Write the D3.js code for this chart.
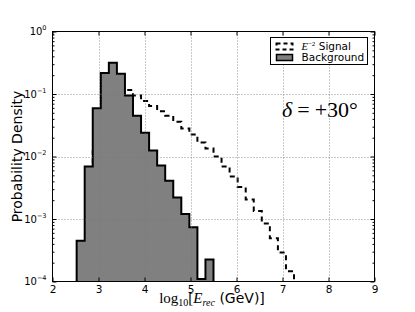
<html>
<meta charset="utf-8">
<style>
body { margin: 0; background: #fff; }
text { font-family: "DejaVu Sans", sans-serif; fill: #000; }
.math { font-family: "Liberation Serif", "DejaVu Serif", serif; }
</style>
<body>
<script src="https://d3js.org/d3.v7.min.js"></script>
<script>

// histogram bins (left edges), last edge separately
var bgEdges = [2.525, 2.7, 2.875, 3.05, 3.225, 3.4, 3.575, 3.75, 3.925, 4.1,
               4.275, 4.45, 4.625, 4.8, 4.975, 5.15, 5.325];
var bgEnd = 5.5;
var bgValues = [4.5e-4, 6.9e-3, 0.059, 0.217, 0.315, 0.21, 0.095, 0.045, 0.024, 0.0125,
                0.0072, 0.0041, 0.0022, 0.0012, 7.4e-4, 1.1e-4, 2.25e-4];

var sigEdges = [2.875, 3.05, 3.225, 3.4, 3.575, 3.75, 3.925, 4.1, 4.275, 4.45,
                4.625, 4.8, 4.975, 5.15, 5.325, 5.5, 5.675, 5.85, 6.025, 6.2,
                6.375, 6.55, 6.725, 6.9, 7.075];
var sigEnd = 7.25;
var sigValues = [0.012, 0.04, 0.08, 0.11, 0.116, 0.095, 0.077, 0.064, 0.053, 0.045,
                 0.036, 0.028, 0.0225, 0.0167, 0.0134, 0.01, 0.0069, 0.0048, 0.00325, 0.00205,
                 0.00134, 8.5e-4, 4.9e-4, 2.9e-4, 1.46e-4];

var xTicks = [2, 3, 4, 5, 6, 7, 8, 9];
var xGrid = [3, 4, 5, 6, 7, 8];
var yMajor = [1e-4, 1e-3, 1e-2, 1e-1, 1];
var yGrid = [1e-3, 1e-2, 1e-1];

var pLeft = 52.5, pRight = 374.5, pTop = 31.5, pBottom = 281.5;

var svg = d3.select("body").append("svg")
    .attr("width", 415)
    .attr("height", 312);

var x = d3.scaleLinear().domain([2, 9]).range([pLeft, pRight]);
var y = d3.scaleLog().domain([1e-4, 1]).range([pBottom, pTop]);

svg.append("clipPath").attr("id", "plot")
  .append("rect")
    .attr("x", pLeft).attr("y", pTop)
    .attr("width", pRight - pLeft).attr("height", pBottom - pTop);

// build step outline of a histogram
function steps(edges, vals, end) {
  var pts = [[x(edges[0]), y(1e-6)]];
  edges.forEach(function(e, i) {
    var e1 = i < edges.length - 1 ? edges[i + 1] : end;
    pts.push([x(e), y(vals[i])]);
    pts.push([x(e1), y(vals[i])]);
  });
  pts.push([x(end), y(1e-6)]);
  return pts;
}

var line = d3.line();

var g = svg.append("g").attr("clip-path", "url(#plot)");

// signal (dashed step)
g.append("path")
    .attr("d", line(steps(sigEdges, sigValues, sigEnd)))
    .style("fill", "none")
    .style("stroke", "#000")
    .style("stroke-width", 2)
    .style("stroke-dasharray", "5,4");

// background (filled step)
g.append("path")
    .attr("d", line(steps(bgEdges, bgValues, bgEnd)) + "Z")
    .style("fill", "#808080")
    .style("stroke", "#000")
    .style("stroke-width", 2)
    .style("stroke-linejoin", "miter");

// grid
svg.selectAll(".xg").data(xGrid).enter().append("line")
    .attr("x1", function(d) { return Math.round(x(d)) + 0.5; })
    .attr("x2", function(d) { return Math.round(x(d)) + 0.5; })
    .attr("y1", pTop).attr("y2", pBottom)
    .style("stroke", "#777").style("stroke-width", 0.8).style("stroke-dasharray", "1,2");
svg.selectAll(".yg").data(yGrid).enter().append("line")
    .attr("y1", function(d) { return Math.round(y(d)) + 0.5; })
    .attr("y2", function(d) { return Math.round(y(d)) + 0.5; })
    .attr("x1", pLeft).attr("x2", pRight)
    .style("stroke", "#777").style("stroke-width", 0.8).style("stroke-dasharray", "1,2");

// minor ticks on the log axis
var yMinor = [];
yMajor.slice(0, 4).forEach(function(m) {
  for (var k = 2; k < 10; k++) yMinor.push(m * k);
});

// axes with inward ticks
var xb = svg.append("g").attr("transform", "translate(0," + pBottom + ")")
    .call(d3.axisBottom(x).tickValues(xTicks).tickSize(-4).tickPadding(4).tickFormat(d3.format("d")));
svg.append("g").attr("transform", "translate(0," + pTop + ")")
    .call(d3.axisTop(x).tickValues(xTicks).tickSize(-4).tickFormat(""));
svg.append("g").attr("transform", "translate(" + pLeft + ",0)")
    .call(d3.axisLeft(y).tickValues(yMajor).tickSize(-4).tickFormat(""));
svg.append("g").attr("transform", "translate(" + pLeft + ",0)")
    .call(d3.axisLeft(y).tickValues(yMinor).tickSize(-2).tickFormat(""));
svg.append("g").attr("transform", "translate(" + pRight + ",0)")
    .call(d3.axisRight(y).tickValues(yMajor).tickSize(-4).tickFormat(""));
svg.append("g").attr("transform", "translate(" + pRight + ",0)")
    .call(d3.axisRight(y).tickValues(yMinor).tickSize(-2).tickFormat(""));

svg.selectAll(".domain").remove();
svg.selectAll(".tick line").style("stroke", "#000");
xb.selectAll("text").style("font-size", "10.5px").style("font-family", "DejaVu Sans");

// y tick labels 10^n
var yl = svg.selectAll(".ylab").data(yMajor).enter().append("text")
    .attr("x", 46.5)
    .attr("y", function(d) { return y(d) + 3.5; })
    .attr("text-anchor", "end")
    .style("font-size", "10px");
yl.append("tspan").text("10");
yl.append("tspan")
    .attr("dy", -5)
    .style("font-size", "6.5px")
    .text(function(d) { var e = Math.round(Math.log10(d)); return e < 0 ? "\u2212" + (-e) : e; });

// frame
svg.append("rect")
    .attr("x", pLeft).attr("y", pTop)
    .attr("width", pRight - pLeft).attr("height", pBottom - pTop)
    .style("fill", "none").style("stroke", "#000").style("stroke-width", 1);

// axis labels
svg.append("text")
    .attr("transform", "translate(22," + ((pTop + pBottom) / 2) + ") rotate(-90)")
    .attr("text-anchor", "middle")
    .style("font-size", "14px")
    .text("Probability Density");

var xl = svg.append("text")
    .attr("x", 212)
    .attr("y", 303)
    .attr("text-anchor", "middle")
    .style("font-size", "14px");
xl.append("tspan").attr("class", "math").style("font-size", "15px").text("log");
xl.append("tspan").attr("class", "math").attr("dy", 3).style("font-size", "10px").text("10");
xl.append("tspan").attr("class", "math").attr("dy", -3).style("font-size", "15px").text("[");
xl.append("tspan").attr("class", "math").style("font-style", "italic").style("font-size", "15px").text("E");
xl.append("tspan").attr("class", "math").attr("dy", 3).style("font-style", "italic").style("font-size", "10px").text("rec");
xl.append("tspan").attr("dy", -3).text(" (GeV)]");

// legend
var lg = svg.append("g").attr("transform", "translate(270.5,37.5)");
lg.append("rect").attr("width", 97).attr("height", 27)
    .style("fill", "#fff").style("stroke", "#000").style("stroke-width", 1);
lg.append("rect").attr("x", 6).attr("y", 6).attr("width", 16).attr("height", 6)
    .style("fill", "none").style("stroke", "#000").style("stroke-width", 2)
    .style("stroke-dasharray", "4,3");
lg.append("rect").attr("x", 6).attr("y", 17).attr("width", 16).attr("height", 6)
    .style("fill", "#808080").style("stroke", "#000").style("stroke-width", 1.5);
var t1 = lg.append("text").attr("x", 31).attr("y", 12.5).style("font-size", "10.5px");
t1.append("tspan").attr("class", "math").style("font-style", "italic").text("E");
t1.append("tspan").attr("class", "math").attr("dy", -4).style("font-size", "7px").text("\u22122");
t1.append("tspan").attr("dy", 4).text(" Signal");
lg.append("text").attr("x", 31).attr("y", 23.5).style("font-size", "10.5px").text("Background");

// declination annotation
var dl = svg.append("text")
    .attr("class", "math")
    .attr("x", 282)
    .attr("y", 117)
    .style("font-size", "22px");
dl.append("tspan").style("font-style", "italic").text("\u03b4");
dl.append("tspan").attr("dx", 5).text("=");
dl.append("tspan").attr("dx", 5).text("+30\u00b0");

</script>
</body>
</html>
